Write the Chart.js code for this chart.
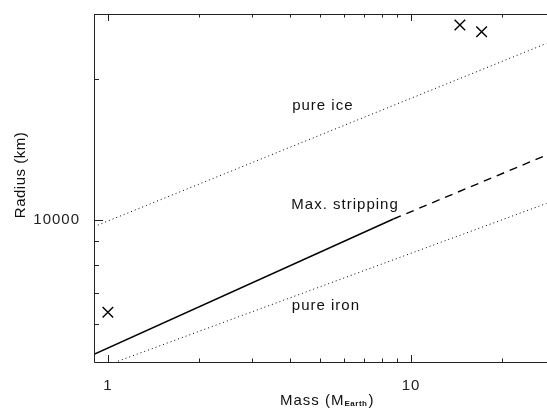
<!DOCTYPE html>
<html>
<head>
<meta charset="utf-8">
<script src="https://cdn.jsdelivr.net/npm/chart.js@4/dist/chart.umd.min.js"></script>
<style>
  html, body { margin: 0; padding: 0; background: #fff; overflow: hidden; }
  #wrap { width: 547px; height: 409px; }
</style>
</head>
<body>
<div id="wrap"><canvas id="chart"></canvas></div>
<script>
// model curves (mass in Earth masses, radius in km)
const iceMass = [0.9, 28];
const iceRadius = [9680, 23800];
const ironMass = [1.08, 28];
const ironRadius = [5000, 10850];
const stripMass = [0.9, 8.75];
const stripRadius = [5170, 10050];
const stripExtMass = [8.75, 28];
const stripExtRadius = [10050, 13760];

// planets (crosses)
const planetMass = [1, 14.5, 17.1];
const planetRadius = [6360, 26050, 25200];

// axis ticks
const xTickLabels = [1, 10];
const xMinorTicks = [2, 3, 4, 5, 6, 7, 8, 9, 20];
const yTickLabels = [10000];
const yMinorTicks = [6000, 7000, 8000, 9000, 20000];

// curve labels and where they sit (data units)
const curveLabels = ["pure ice", "Max. stripping", "pure iron"];
const labelMass = [5.12, 6.06, 5.24];
const labelRadius = [17160, 10560, 6430];

const ctx = document.getElementById("chart");
const FONT = '"Liberation Sans", Arial, sans-serif';

function pts(xs, ys) {
  return xs.map((x, i) => ({ x: x, y: ys[i] }));
}

function lineSet(xs, ys, dash, width) {
  return {
    data: pts(xs, ys),
    showLine: true,
    borderColor: "#000",
    borderWidth: width,
    borderDash: dash,
    pointRadius: 0,
    fill: false,
  };
}

const frame = {
  id: "frame",
  beforeDraw(chart) {
    chart.ctx.letterSpacing = "1px";
  },
  afterDraw(chart) {
    const c = chart.ctx;
    const a = chart.chartArea;
    const xs = chart.scales.x;
    const ys = chart.scales.y;
    c.save();
    c.letterSpacing = "1px";
    c.strokeStyle = "#222";
    c.lineWidth = 1;
    c.beginPath();
    c.moveTo(a.left + 0.5, a.top + 0.5);
    c.lineTo(a.right, a.top + 0.5);
    c.moveTo(a.left + 0.5, a.top);
    c.lineTo(a.left + 0.5, a.bottom + 0.5);
    c.lineTo(a.right, a.bottom + 0.5);
    // x ticks, bottom and top
    function xTick(v, len) {
      const px = Math.round(xs.getPixelForValue(v)) + 0.5;
      c.moveTo(px, a.bottom);
      c.lineTo(px, a.bottom - len);
      c.moveTo(px, a.top);
      c.lineTo(px, a.top + len);
    }
    xTickLabels.forEach(v => xTick(v, 7));
    xMinorTicks.forEach(v => xTick(v, 3.5));
    function yTick(v, len) {
      const py = Math.round(ys.getPixelForValue(v)) + 0.5;
      c.moveTo(a.left, py);
      c.lineTo(a.left + len, py);
    }
    yTickLabels.forEach(v => yTick(v, 9));
    yMinorTicks.forEach(v => yTick(v, 5));
    c.stroke();

    // curve labels
    c.fillStyle = "#111";
    c.font = "15px " + FONT;
    c.textAlign = "center";
    c.textBaseline = "alphabetic";
    for (let i = 0; i < curveLabels.length; i++) {
      c.fillText(curveLabels[i], xs.getPixelForValue(labelMass[i]), ys.getPixelForValue(labelRadius[i]));
    }

    // x title with subscript
    c.textAlign = "left";
    let x0 = 280;
    const base = 405;
    c.font = "15px " + FONT;
    c.fillText("Mass (M", x0, base);
    x0 += c.measureText("Mass (M").width;
    c.letterSpacing = "0.5px";
    c.font = "bold 8px " + FONT;
    c.fillText("Earth", x0, base + 1);
    x0 += c.measureText("Earth").width + 1;
    c.letterSpacing = "1px";
    c.font = "15px " + FONT;
    c.fillText(")", x0, base);

    // y title
    c.letterSpacing = "0.5px";
    c.translate(25, 175);
    c.rotate(-Math.PI / 2);
    c.textAlign = "center";
    c.fillText("Radius (km)", 0, 0);
    c.restore();
  }
};

new Chart(ctx, {
  type: "scatter",
  data: {
    datasets: [
      lineSet(iceMass, iceRadius, [1, 3], 1),
      lineSet(ironMass, ironRadius, [1, 3], 1),
      lineSet(stripMass, stripRadius, [], 1.4),
      lineSet(stripExtMass, stripExtRadius, [8, 6], 1.4),
      {
        data: pts(planetMass, planetRadius),
        pointStyle: "crossRot",
        pointRadius: 7.5,
        borderColor: "#000",
        borderWidth: 1.4,
      },
    ],
  },
  options: {
    responsive: true,
    maintainAspectRatio: false,
    animation: false,
    layout: { autoPadding: false, padding: { top: 14, right: 0, left: 0, bottom: 0 } },
    plugins: {
      legend: { display: false },
      tooltip: { enabled: false },
    },
    scales: {
      x: {
        type: "logarithmic",
        min: 0.9,
        max: 28.1,
        grid: { display: false },
        border: { display: false },
        afterBuildTicks: (s) => { s.ticks = xTickLabels.map(v => ({ value: v })); },
        afterFit: (s) => { s.height = 47; s.paddingLeft = 0; s.paddingRight = 0; },
        ticks: {
          autoSkip: false,
          maxRotation: 0,
          padding: 7,
          color: "#222",
          font: { family: FONT, size: 15 },
          callback: (v) => String(v),
        },
      },
      y: {
        type: "logarithmic",
        min: 4980,
        max: 27500,
        grid: { display: false },
        border: { display: false },
        afterBuildTicks: (s) => { s.ticks = yTickLabels.map(v => ({ value: v })); },
        afterFit: (s) => { s.width = 94; s.paddingTop = 0; s.paddingBottom = 0; },
        ticks: {
          autoSkip: false,
          padding: 6,
          color: "#222",
          font: { family: FONT, size: 15 },
          callback: (v) => String(v),
        },
      },
    },
  },
  plugins: [frame],
});
</script>
</body>
</html>
